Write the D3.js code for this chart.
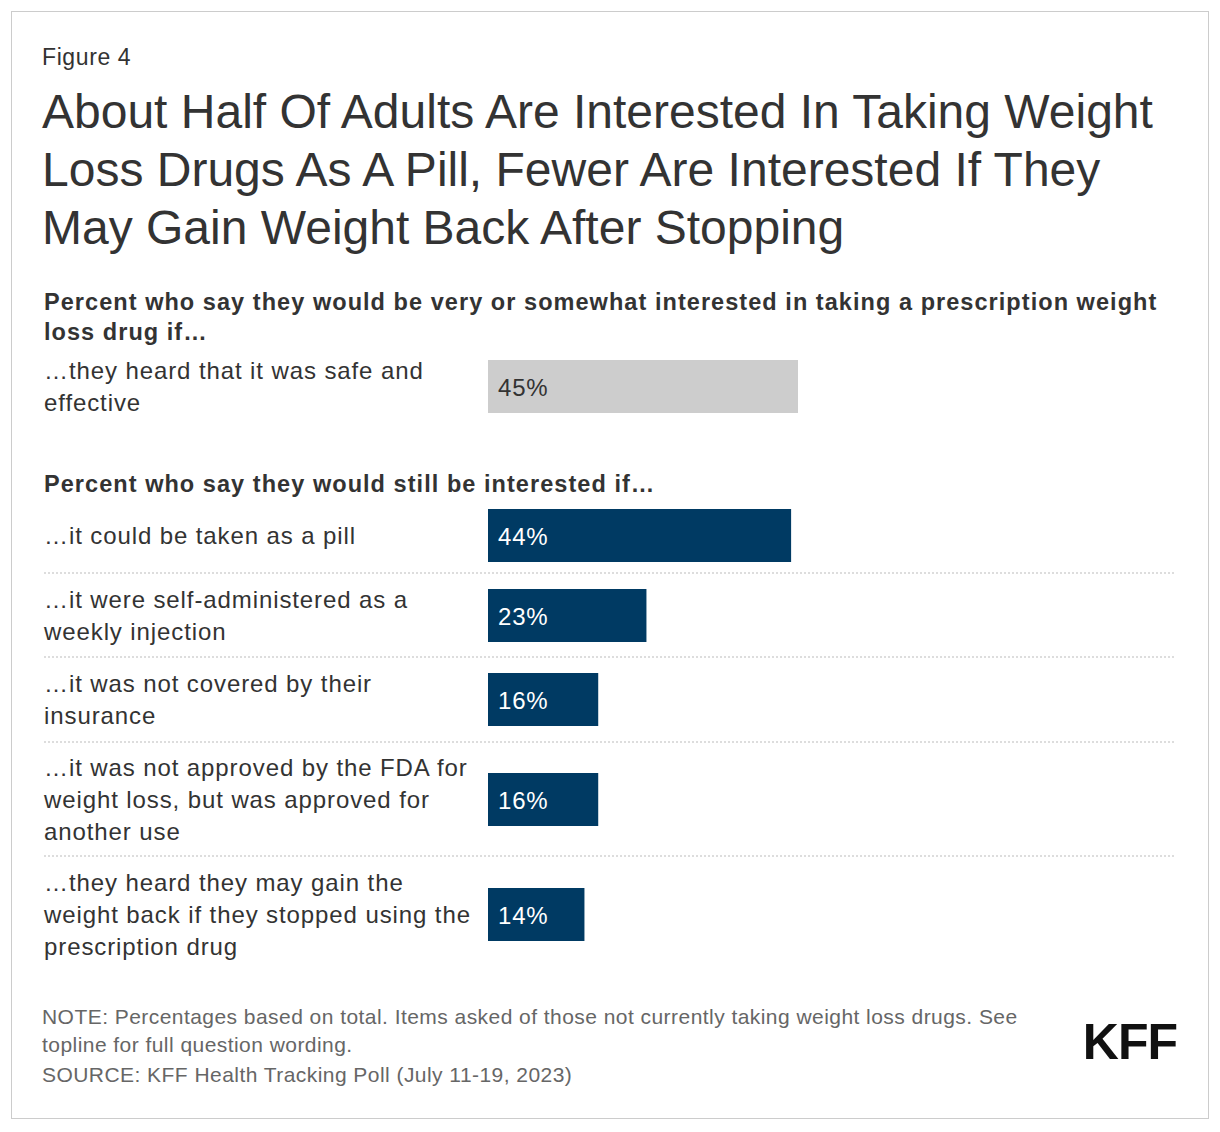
<!DOCTYPE html><html><head><meta charset="utf-8"><script src="https://cdn.jsdelivr.net/npm/d3@7"></script>
<style>body{margin:0;background:#fff;font-family:"Liberation Sans",Arial,sans-serif}</style></head><body><svg id="c" width="1220" height="1132"></svg>
<script>
const topLabel=[["…they heard that it was safe and","effective"]];
const topValue=[45];
const labels=[["…it could be taken as a pill"],["…it were self-administered as a","weekly injection"],["…it was not covered by their","insurance"],["…it was not approved by the FDA for","weight loss, but was approved for","another use"],["…they heard they may gain the","weight back if they stopped using the","prescription drug"]];
const values=[44,23,16,16,14];
const barTops=[509,589,673,773,888];
const seps=[573,657,742,856];
const svg=d3.select("#c");
svg.append("rect").attr("x",11.5).attr("y",11.5).attr("width",1197).attr("height",1107).attr("fill","#fff").attr("stroke","#ccc");
const x=d3.scaleLinear().domain([0,45]).range([488,798]);
const t=(xx,y,s,txt,o={})=>svg.append("text").attr("x",xx).attr("y",y).attr("font-size",s).attr("fill",o.fill||"#333").attr("font-weight",o.w||"normal").attr("letter-spacing",o.ls||0).text(txt);
t(42,65,23,"Figure 4",{ls:0.6});
["About Half Of Adults Are Interested In Taking Weight","Loss Drugs As A Pill, Fewer Are Interested If They","May Gain Weight Back After Stopping"].forEach((l,i)=>t(42,128+i*58,48,l));
t(44,310,23.5,"Percent who say they would be very or somewhat interested in taking a prescription weight",{w:"bold",ls:1.05});
t(44,340,23.5,"loss drug if…",{w:"bold",ls:1.05});
t(44,492,23.5,"Percent who say they would still be interested if…",{w:"bold",ls:1.05});
function bar(y,v,lab,col,tc){
 svg.append("rect").attr("x",x(0)).attr("y",y).attr("width",x(v)-x(0)).attr("height",53).attr("fill",col);
 t(498,y+36,24,v+"%",{fill:tc,ls:0.8});
 const n=lab.length, mid=y+26.5;
 lab.forEach((l,i)=>t(44,mid+8+(i-(n-1)/2)*32,24,l,{ls:0.9}));
}
bar(360,topValue[0],topLabel[0],"#cdcdcd","#333");
values.forEach((v,i)=>bar(barTops[i],v,labels[i],"#003a63","#fff"));
seps.forEach(y=>svg.append("line").attr("x1",44).attr("x2",1176).attr("y1",y).attr("y2",y).attr("stroke","#bbb").attr("stroke-dasharray","2,2"));
t(42,1024,21,"NOTE: Percentages based on total. Items asked of those not currently taking weight loss drugs. See",{fill:"#666",ls:0.45});
t(42,1052,21,"topline for full question wording.",{fill:"#666",ls:0.45});
t(42,1082,21,"SOURCE: KFF Health Tracking Poll (July 11-19, 2023)",{fill:"#666",ls:0.45});
svg.append("text").attr("x",1177).attr("y",1059).attr("text-anchor","end").attr("font-size",50).attr("font-weight","bold").attr("fill","#111").attr("letter-spacing",-1).text("KFF");
</script></body></html>
